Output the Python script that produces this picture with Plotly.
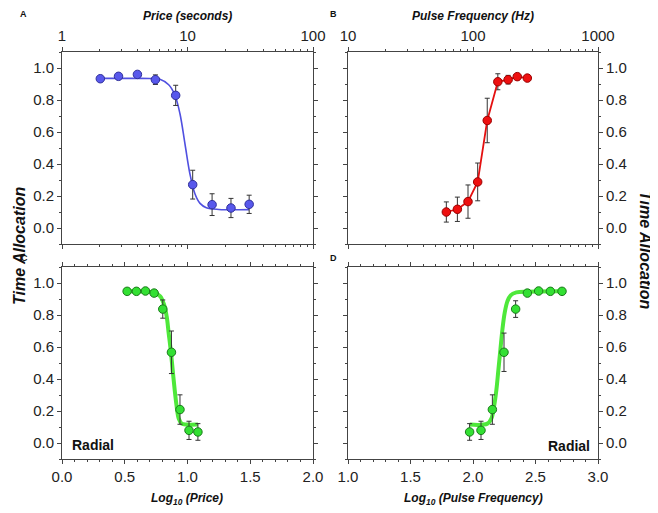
import plotly.graph_objects as go

# Panel A - price (seconds), blue
A_price = [2.02, 2.82, 3.99, 5.55, 8.05, 11.0, 15.7, 22.2, 31.0]
A_alloc = [0.933, 0.948, 0.960, 0.927, 0.829, 0.271, 0.146, 0.125, 0.148]
A_err = [0.012, 0.012, 0.015, 0.03, 0.063, 0.09, 0.068, 0.06, 0.057]
A_fit_price = [2.02, 3.98, 5.01, 6.03, 7.08, 7.94, 8.71, 9.55, 10.47, 11.48, 12.59, 14.13, 17.78, 30.9]
A_fit_alloc = [0.935, 0.935, 0.934, 0.93, 0.895, 0.83, 0.714, 0.525, 0.336, 0.213, 0.154, 0.127, 0.116, 0.115]

# Panel B - pulse frequency (Hz), red
B_freq = [61.2, 75.0, 91.2, 109, 130, 158, 191, 226, 272]
B_alloc = [0.100, 0.117, 0.165, 0.288, 0.672, 0.914, 0.927, 0.946, 0.937]
B_err = [0.063, 0.076, 0.104, 0.118, 0.139, 0.05, 0.027, 0.012, 0.01]

# Panel C - log10 price, radial (green)
C_logprice = [0.519, 0.593, 0.665, 0.734, 0.803, 0.872, 0.940, 1.012, 1.083]
C_alloc = [0.948, 0.948, 0.950, 0.937, 0.837, 0.567, 0.209, 0.079, 0.069]
C_err = [0.012, 0.012, 0.012, 0.012, 0.057, 0.133, 0.092, 0.057, 0.052]
C_fit_x = [0.519, 0.728, 0.781, 0.813, 0.834, 0.850, 0.866, 0.882, 0.898, 0.914, 0.930, 0.954, 0.993, 1.083]
C_fit_y = [0.948, 0.941, 0.918, 0.866, 0.791, 0.686, 0.582, 0.456, 0.331, 0.226, 0.153, 0.121, 0.115, 0.115]

# Panel D - log10 pulse frequency, radial (green)
D_logfreq = [1.973, 2.064, 2.155, 2.248, 2.341, 2.435, 2.525, 2.619, 2.712]
D_alloc = [0.069, 0.079, 0.209, 0.567, 0.837, 0.937, 0.950, 0.948, 0.948]
D_err = [0.052, 0.057, 0.092, 0.12, 0.052, 0.012, 0.012, 0.012, 0.012]
D_fit_x = [1.973, 2.115, 2.147, 2.168, 2.187, 2.203, 2.219, 2.235, 2.253, 2.275, 2.301, 2.347, 2.440, 2.712]
D_fit_y = [0.115, 0.121, 0.153, 0.226, 0.331, 0.456, 0.582, 0.707, 0.812, 0.885, 0.923, 0.941, 0.946, 0.948]

# page body has an 8px margin, so the figure is drawn 8px smaller and layout
# positions (taken from the 658x513 picture) are shifted by that amount
OFF = 8
W, H = 658 - OFF, 513 - OFF
FONT = "Liberation Sans"
ERR_COLOR = "#333333"
AX_COLOR = "#444444"


def fx(x):
    return (x - OFF) / W


def fy(y):
    return 1 - (y - OFF) / H


def errbar(vals):
    return dict(type="data", array=vals, color=ERR_COLOR, thickness=1, width=2.5)


def marker(fill, edge):
    return dict(size=8.5, color=fill, line=dict(color=edge, width=1))


fig = go.Figure()

# A
fig.add_trace(go.Scatter(x=A_fit_price, y=A_fit_alloc, mode="lines", line_shape="spline",
                         line=dict(color="#5050e0", width=1.6), xaxis="x", yaxis="y"))
fig.add_trace(go.Scatter(x=A_price, y=A_alloc, mode="markers", error_y=errbar(A_err),
                         marker=marker("#5858ec", "#30309a"), xaxis="x", yaxis="y"))
# B
fig.add_trace(go.Scatter(x=B_freq, y=B_alloc, mode="lines+markers", error_y=errbar(B_err),
                         line=dict(color="#e41010", width=1.8),
                         marker=marker("#ee1010", "#9a0000"), xaxis="x2", yaxis="y2"))
# C
fig.add_trace(go.Scatter(x=C_fit_x, y=C_fit_y, mode="lines", line_shape="spline",
                         line=dict(color="#4ee83a", width=4), xaxis="x3", yaxis="y3"))
fig.add_trace(go.Scatter(x=C_logprice, y=C_alloc, mode="markers", error_y=errbar(C_err),
                         marker=marker("#33e033", "#1a7a1a"), xaxis="x3", yaxis="y3"))
# D
fig.add_trace(go.Scatter(x=D_fit_x, y=D_fit_y, mode="lines", line_shape="spline",
                         line=dict(color="#4ee83a", width=4), xaxis="x4", yaxis="y4"))
fig.add_trace(go.Scatter(x=D_logfreq, y=D_alloc, mode="markers", error_y=errbar(D_err),
                         marker=marker("#33e033", "#1a7a1a"), xaxis="x4", yaxis="y4"))

axis_common = dict(showline=True, linecolor=AX_COLOR, linewidth=1, mirror="allticks",
                   ticks="outside", ticklen=4, tickcolor=AX_COLOR, showgrid=False,
                   zeroline=False, automargin=False,
                   tickfont=dict(family=FONT, size=15, color="#222222"))
left_x = [fx(62), fx(313)]
right_x = [fx(348), fx(598)]
top_y = [fy(244), fy(52)]
bot_y = [fy(459), fy(267)]

lin_minor = dict(ticks="outside", ticklen=2, dtick=0.1, tick0=0, tickcolor=AX_COLOR)
yax = dict(range=[-0.1, 1.1], tickvals=[0, 0.2, 0.4, 0.6, 0.8, 1.0], tickformat=".1f",
           minor=lin_minor, **axis_common)


def log_minor(decades):
    vals = [m * 10 ** d for d in decades for m in range(2, 10)]
    return dict(ticks="outside", ticklen=2, tickcolor=AX_COLOR, tickvals=vals)


fig.update_layout(
    xaxis=dict(type="log", range=[0, 2], domain=left_x, anchor="y", side="top",
               tickvals=[1, 10, 100], ticktext=["1", "10", "100"], minor=log_minor([0, 1]),
               **axis_common),
    yaxis=dict(domain=top_y, anchor="x", side="left", **yax),
    xaxis2=dict(type="log", range=[1, 3], domain=right_x, anchor="y2", side="top",
                tickvals=[10, 100, 1000], ticktext=["10", "100", "1000"], minor=log_minor([1, 2]),
                **axis_common),
    yaxis2=dict(domain=top_y, anchor="x2", side="right", **yax),
    xaxis3=dict(range=[0, 2], domain=left_x, anchor="y3", side="bottom", dtick=0.5, tickformat=".1f",
                minor=lin_minor, **axis_common),
    yaxis3=dict(domain=bot_y, anchor="x3", side="left", **yax),
    xaxis4=dict(range=[1, 3], domain=right_x, anchor="y4", side="bottom", dtick=0.5, tickformat=".1f",
                minor=lin_minor, **axis_common),
    yaxis4=dict(domain=bot_y, anchor="x4", side="right", **yax),
)

annotations = []


def note(text, x, y, size, italic=False, angle=0, xanchor="center", yanchor="middle"):
    annotations.append(dict(text=text, x=fx(x), y=fy(y), xref="paper", yref="paper", showarrow=False,
                            xanchor=xanchor, yanchor=yanchor, textangle=angle, borderpad=0,
                            font=dict(family=FONT, size=size, color="#111111", weight="bold",
                                      style="italic" if italic else "normal")))


note("A", 23, 8, 9, yanchor="top")
note("B", 334, 8, 9, yanchor="top")
note("C", 24, 258, 9)
note("D", 333, 258, 9)
note("Price (seconds)", 187, 8, 12, italic=True, yanchor="top")
note("Pulse Frequency (Hz)", 473, 8, 12, italic=True, yanchor="top")
note("Log<sub>10</sub> (Price)", 187, 499, 12, italic=True)
note("Log<sub>10</sub> (Pulse Frequency)", 473, 499, 12, italic=True)
note("Time Allocation", 19, 246, 16, italic=True, angle=-90)
note("Time Allocation", 646, 250, 16, italic=True, angle=90)
note("Radial", 71, 445, 14, xanchor="left")
note("Radial", 591, 446, 14, xanchor="right")

fig.update_layout(annotations=annotations, width=W, height=H, autosize=False,
                  margin=dict(l=0, r=0, t=0, b=0), showlegend=False,
                  paper_bgcolor="white", plot_bgcolor="white",
                  font=dict(family=FONT))

fig.write_html("out.html")
